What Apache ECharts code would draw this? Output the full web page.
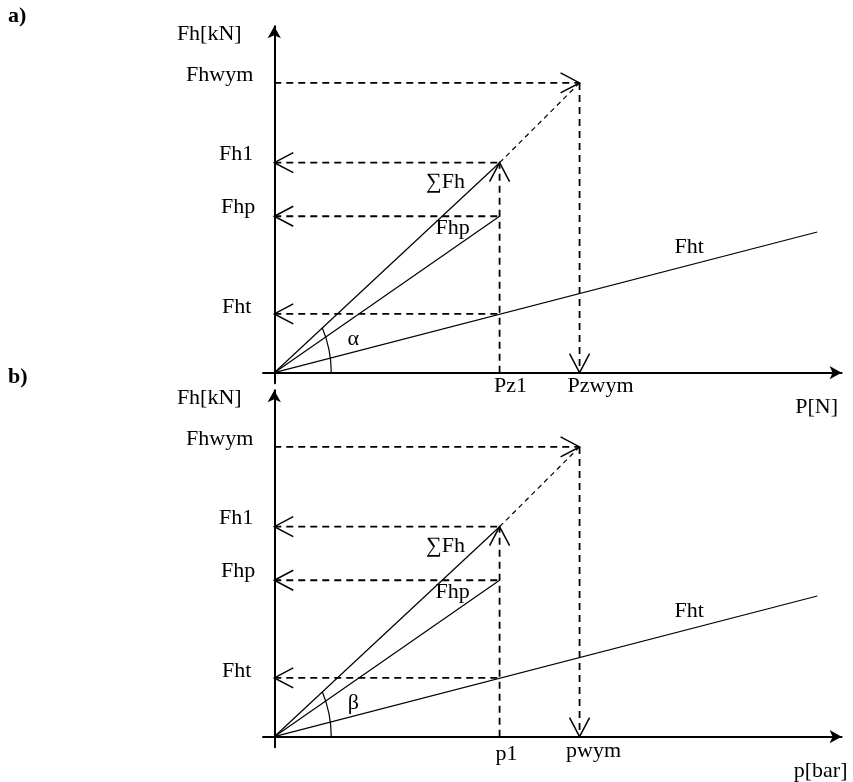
<!DOCTYPE html>
<html><head><meta charset="utf-8">
<script src="https://cdn.jsdelivr.net/npm/echarts@6/dist/echarts.min.js"></script>
<style>html,body{margin:0;padding:0;background:#fff}#c{width:853px;height:782px}</style>
</head><body><div id="c"></div>
<script>
// ---------- data ----------
const panelTitles = ['a)', 'b)'];
const yAxisName = 'Fh[kN]';
const xAxisNames = ['P[N]', 'p[bar]'];
const xPointNames = [['Pz1', 'Pzwym'], ['p1', 'pwym']];
const angleNames = ['α', 'β'];
const xPoint1 = 10;        // Pz1 / p1
const xPointWym = 13.55;   // Pzwym / pwym
const yLevelNames = ['Fht', 'Fhp', 'Fh1', 'Fhwym'];
const yLevels = [2.8, 7.45, 10, 13.8];
const lineNames = ['∑Fh', 'Fhp', 'Fht'];
const fhtLineEnd = [24.1, 6.7];
const xRange = [-0.5, 25.18];
const yRange = [-0.5, 16.5];

// ---------- styles ----------
const FONT = '"Liberation Serif","Times New Roman",serif';
const FS = 22;
const grids = [
  { left: 263, width: 578.6, top: 26.2, height: 357 },
  { left: 263, width: 578.6, top: 390.2, height: 357 }
];
const dashStyle = { color: '#000', width: 1.8, type: [7, 5] };
const thinDash = { color: '#000', width: 1.2, type: [5, 4] };
const solid = { color: '#000', width: 1.2 };

const [Fht, Fhp, Fh1, Fhwym] = yLevels;

function seg(i, pts, ls) {
  return {
    type: 'line', xAxisIndex: i, yAxisIndex: i, data: pts, symbol: 'none',
    lineStyle: ls, silent: true, animation: false, z: 3
  };
}

// dir: 0 left, 1 right, 2 up, 3 down ; tip at point
function chevron(params, api) {
  const p = api.coord([api.value(0), api.value(1)]);
  const d = api.value(2);
  const L = 19, W = 10;
  let a, b;
  if (d === 0) { a = [p[0] + L, p[1] - W]; b = [p[0] + L, p[1] + W]; }
  else if (d === 1) { a = [p[0] - L, p[1] - W]; b = [p[0] - L, p[1] + W]; }
  else if (d === 2) { a = [p[0] - W, p[1] + L]; b = [p[0] + W, p[1] + L]; }
  else { a = [p[0] - W, p[1] - L]; b = [p[0] + W, p[1] - L]; }
  return { type: 'polyline', shape: { points: [a, p, b] }, style: { stroke: '#000', lineWidth: 1.5, fill: null } };
}

function textSeries(i, items) {
  // items: [x, y, text, dx, dy, align]
  return {
    type: 'custom', xAxisIndex: i, yAxisIndex: i, silent: true, animation: false, z: 5,
    data: items.map((t, k) => [t[0], t[1], k]),
    renderItem: (params, api) => {
      const t = items[api.value(2)];
      const p = api.coord([api.value(0), api.value(1)]);
      return {
        type: 'text', x: p[0] + t[3], y: p[1] + t[4],
        style: { text: t[2], fill: '#000', fontSize: FS, fontFamily: FONT, align: t[5] || 'center', verticalAlign: 'middle' }
      };
    }
  };
}

const series = [];
const xAxes = [], yAxes = [];
for (let i = 0; i < 2; i++) {
  const axisLine = { show: true, onZero: true, symbol: ['none', 'arrow'], symbolSize: [10, 12], lineStyle: { color: '#000', width: 2 } };
  xAxes.push({ type: 'value', gridIndex: i, min: xRange[0], max: xRange[1], axisLine, axisTick: { show: false }, axisLabel: { show: false }, splitLine: { show: false } });
  yAxes.push({ type: 'value', gridIndex: i, min: yRange[0], max: yRange[1], axisLine, axisTick: { show: false }, axisLabel: { show: false }, splitLine: { show: false } });

  // main lines
  series.push(seg(i, [[0, 0], [xPoint1, Fh1]], solid));
  series.push(seg(i, [[xPoint1, Fh1], [xPointWym, Fhwym]], thinDash));
  series.push(seg(i, [[0, 0], [xPoint1, Fhp]], solid));
  series.push(seg(i, [[0, 0], fhtLineEnd], solid));
  // dashed guides
  series.push(seg(i, [[0, Fht], [xPoint1, Fht]], dashStyle));
  series.push(seg(i, [[0, Fhp], [xPoint1, Fhp]], dashStyle));
  series.push(seg(i, [[0, Fh1], [xPoint1, Fh1]], dashStyle));
  series.push(seg(i, [[0, Fhwym], [xPointWym, Fhwym]], dashStyle));
  series.push(seg(i, [[xPoint1, 0], [xPoint1, Fh1]], dashStyle));
  series.push(seg(i, [[xPointWym, Fhwym], [xPointWym, 0]], dashStyle));
  // arrowheads
  series.push({
    type: 'custom', xAxisIndex: i, yAxisIndex: i, silent: true, animation: false, z: 4,
    data: [[0, Fht, 0], [0, Fhp, 0], [0, Fh1, 0], [xPointWym, Fhwym, 1], [xPoint1, Fh1, 2], [xPointWym, 0, 3]],
    renderItem: chevron
  });
  // angle arc
  series.push({
    type: 'custom', xAxisIndex: i, yAxisIndex: i, silent: true, animation: false, z: 4,
    data: [[0, 0]],
    renderItem: (params, api) => {
      const o = api.coord([api.value(0), api.value(1)]);
      const r = 117;
      return { type: 'arc', shape: { cx: o[0] - 60, cy: o[1], r: r, startAngle: -Math.asin(45 / r), endAngle: 0, clockwise: true },
        style: { stroke: '#000', lineWidth: 1.2, fill: null } };
    }
  });
  // texts
  const items = [
    [0, yRange[1], yAxisName, -65, 8],
    [0, Fhwym, 'Fhwym', -21, -8, 'right'],
    [0, Fh1, 'Fh1', -21, -8, 'right'],
    [0, Fhp, 'Fhp', -19, -9, 'right'],
    [0, Fht, 'Fht', -23, -7, 'right'],
    [xPoint1, Fh1, lineNames[0], -54, 20],
    [xPoint1, Fhp, lineNames[1], -47, 12],
    [fhtLineEnd[0], fhtLineEnd[1], lineNames[2], -128, 15],
    [0, 0, angleNames[i], 79, -33],
    [xPoint1, 0, xPointNames[i][0], i === 0 ? 11 : 7, i === 0 ? 14 : 18],
    [xPointWym, 0, xPointNames[i][1], i === 0 ? 21 : 14, i === 0 ? 14 : 15],
    [xRange[1], 0, xAxisNames[i], i === 0 ? -25 : -21, 35]
  ];
  series.push(textSeries(i, items));
}

const chart = echarts.init(document.getElementById('c'), null, { renderer: 'canvas' });
chart.setOption({
  animation: false,
  backgroundColor: '#fff',
  grid: grids,
  xAxis: xAxes,
  yAxis: yAxes,
  graphic: [
    { type: 'text', left: 8, top: 5, style: { text: panelTitles[0], fontSize: 22, fontWeight: 'bold', fontFamily: FONT, fill: '#000' } },
    { type: 'text', left: 8, top: 366, style: { text: panelTitles[1], fontSize: 22, fontWeight: 'bold', fontFamily: FONT, fill: '#000' } }
  ],
  series: series
});
</script></body></html>
